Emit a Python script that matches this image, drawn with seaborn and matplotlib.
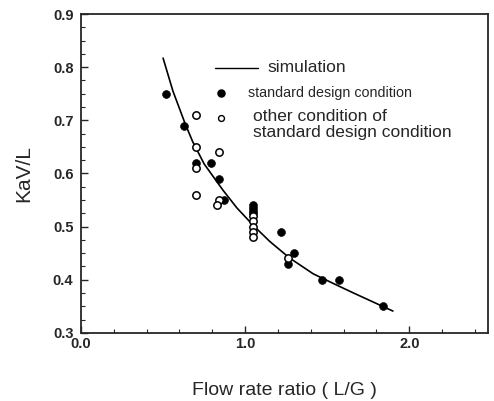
import pandas as pd
import seaborn as sns
import matplotlib.pyplot as plt
from matplotlib.ticker import MultipleLocator

std_lg = [0.52, 0.63, 0.70, 0.79, 0.84, 0.87, 1.05, 1.05, 1.05, 1.05, 1.22, 1.26, 1.30, 1.47, 1.57, 1.84]
std_kav = [0.75, 0.69, 0.62, 0.62, 0.59, 0.55, 0.54, 0.535, 0.53, 0.525, 0.49, 0.43, 0.45, 0.40, 0.40, 0.35]

other_lg = [0.70, 0.70, 0.70, 0.70, 0.84, 0.84, 0.83, 1.05, 1.05, 1.05, 1.05, 1.05, 1.26]
other_kav = [0.71, 0.65, 0.61, 0.56, 0.64, 0.55, 0.54, 0.52, 0.51, 0.50, 0.49, 0.48, 0.44]

# simulation curve, traced
sim_lg = [0.50, 0.56, 0.634, 0.68, 0.75, 0.866, 0.95, 1.05, 1.15, 1.27, 1.415, 1.55, 1.66, 1.78, 1.90]
sim_kav = [0.817, 0.755, 0.694, 0.66, 0.618, 0.568, 0.535, 0.502, 0.472, 0.441, 0.411, 0.391, 0.375, 0.358, 0.341]

sns.set_style("ticks")
plt.rcParams['font.family'] = ['Liberation Sans', 'DejaVu Sans']
plt.rcParams['xtick.direction'] = 'in'
plt.rcParams['ytick.direction'] = 'in'

fig = plt.figure(figsize=(4.94, 4.01), dpi=100)
ax = fig.add_axes([0.164, 0.170, 0.824, 0.795])

sim_df = pd.DataFrame({'lg': sim_lg, 'kav': sim_kav})
sns.lineplot(data=sim_df, x='lg', y='kav', color='black', linewidth=1.2, ax=ax, errorbar=None)

std_df = pd.DataFrame({'lg': std_lg, 'kav': std_kav})
sns.scatterplot(data=std_df, x='lg', y='kav', color='black', edgecolor='black', s=32, ax=ax, zorder=3)

other_df = pd.DataFrame({'lg': other_lg, 'kav': other_kav})
sns.scatterplot(data=other_df, x='lg', y='kav', facecolor='white', edgecolor='black', linewidth=1.1, s=28, ax=ax, zorder=4)

ax.set_xlim(0, 2.48)
ax.set_ylim(0.3, 0.9)
ax.xaxis.set_major_locator(MultipleLocator(1.0))
ax.xaxis.set_minor_locator(MultipleLocator(0.2))
ax.yaxis.set_major_locator(MultipleLocator(0.1))
ax.yaxis.set_minor_locator(MultipleLocator(0.025))
ax.xaxis.set_major_formatter(plt.FormatStrFormatter('%.1f'))
ax.yaxis.set_major_formatter(plt.FormatStrFormatter('%.1f'))
ax.tick_params(which='both', top=False, right=False, labelsize=10.5)
ax.tick_params(which='major', length=5, width=1)
ax.tick_params(which='minor', length=3, width=0.8)
ax.tick_params(axis='x', pad=3)
ax.tick_params(axis='y', pad=5.5)
for lbl in ax.get_xticklabels() + ax.get_yticklabels():
    lbl.set_fontweight('bold')
for s in ax.spines.values():
    s.set_linewidth(1.3)
    s.set_visible(True)

ax.set_xlabel('Flow rate ratio ( L/G )', fontsize=14, labelpad=22)
ax.set_ylabel('KaV/L', fontsize=15, labelpad=14)

# hand-placed key inside the axes
ax.plot([0.329, 0.435], [0.831, 0.831], color='black', linewidth=1.0, transform=ax.transAxes)
ax.text(0.459, 0.831, 'simulation', transform=ax.transAxes, fontsize=12.5, va='center')
ax.scatter([0.345], [0.752], s=26, color='black', transform=ax.transAxes)
ax.text(0.410, 0.752, 'standard design condition', transform=ax.transAxes, fontsize=10.3, va='center')
ax.scatter([0.345], [0.674], s=18, facecolor='white', edgecolor='black', linewidth=1.0, transform=ax.transAxes)
ax.text(0.423, 0.653, 'other condition of\nstandard design condition', transform=ax.transAxes,
        fontsize=12.5, va='center', linespacing=1.1)

fig.savefig('out.png', dpi=100)
